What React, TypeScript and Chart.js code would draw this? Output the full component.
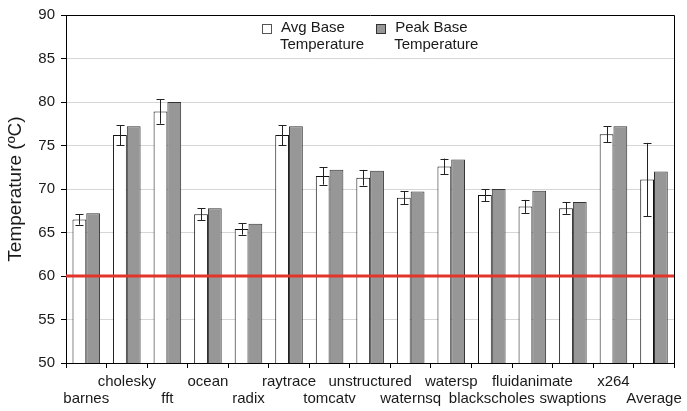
import React, { useEffect, useRef } from "react";
import { Chart, registerables } from "chart.js";

Chart.register(...registerables);

// Benchmarks on the x axis
const categories = [
  "barnes", "cholesky", "fft", "ocean", "radix", "raytrace", "tomcatv",
  "unstructured", "waternsq", "watersp", "blackscholes", "fluidanimate",
  "swaptions", "x264", "Average",
];

// Average base temperature (ºC) and its spread
const avgBase = [66.5, 76.2, 78.9, 67.1, 65.4, 76.2, 71.5, 71.3, 69.0, 72.6, 69.3, 68.0, 67.8, 76.3, 71.1];
const avgError = [0.6, 1.15, 1.4, 0.7, 0.65, 1.15, 1.0, 0.9, 0.75, 0.9, 0.7, 0.75, 0.65, 0.9, 4.2];

// Peak base temperature (ºC)
const peakBase = [67.2, 77.2, 80.0, 67.8, 66.0, 77.2, 72.2, 72.1, 69.7, 73.4, 70.0, 69.8, 68.5, 77.2, 72.0];

// Reference threshold line
const thresholdValue = 60;

// Y axis
const yMin = 50;
const yMax = 90;
const yStep = 5;

const legendLines = [
  ["Avg Base", "Temperature"],
  ["Peak Base", "Temperature"],
];

const FONT = "'Liberation Sans', Arial, sans-serif";
const TEXT = "#1a1a1a";
const GRAY = "#979797";

const overlayPlugin = {
  id: "overlay",
  afterDatasetsDraw(chart: any) {
    const { ctx, chartArea } = chart;
    const y = chart.scales.y;

    // threshold line
    ctx.save();
    const ty = y.getPixelForValue(thresholdValue);
    ctx.strokeStyle = "#e3342a";
    ctx.lineWidth = 3;
    ctx.beginPath();
    ctx.moveTo(chartArea.left, ty);
    ctx.lineTo(chartArea.right, ty);
    ctx.stroke();

    // error bars on the average series
    const meta = chart.getDatasetMeta(0);
    ctx.strokeStyle = "#222";
    ctx.lineWidth = 1;
    meta.data.forEach((el: any, i: number) => {
      const x = Math.round(el.x) + 0.5;
      const top = y.getPixelForValue(avgBase[i] + avgError[i]);
      const bot = y.getPixelForValue(avgBase[i] - avgError[i]);
      const hw = 4;
      ctx.beginPath();
      ctx.moveTo(x, top);
      ctx.lineTo(x, bot);
      ctx.moveTo(x - hw, Math.round(top) + 0.5);
      ctx.lineTo(x + hw, Math.round(top) + 0.5);
      ctx.moveTo(x - hw, Math.round(bot) + 0.5);
      ctx.lineTo(x + hw, Math.round(bot) + 0.5);
      ctx.stroke();
    });

    // frame
    ctx.strokeStyle = "#000";
    ctx.lineWidth = 1;
    ctx.beginPath();
    ctx.moveTo(Math.round(chartArea.left) + 0.5, Math.round(chartArea.top) + 0.5);
    ctx.lineTo(Math.round(chartArea.right) + 0.5, Math.round(chartArea.top) + 0.5);
    ctx.lineTo(Math.round(chartArea.right) + 0.5, Math.round(chartArea.bottom) + 0.5);
    ctx.stroke();

    // legend
    ctx.font = `15px ${FONT}`;
    ctx.textBaseline = "middle";
    ctx.textAlign = "left";
    const box = 9;
    const gap = 9;
    const itemGap = 12;
    const widths = legendLines.map((lines) =>
      box + gap + Math.max(...lines.map((l) => ctx.measureText(l).width))
    );
    const total = widths.reduce((a, b) => a + b, 0) + itemGap * (widths.length - 1);
    let x = (chartArea.left + chartArea.right) / 2 - total / 2;
    const ly = chartArea.top + 13;
    const fills = ["#ffffff", GRAY];
    const strokes = ["#555", "#333"];
    legendLines.forEach((lines, i) => {
      const bx = Math.round(x) + 0.5;
      const by = Math.round(ly - box / 2) + 0.5;
      ctx.fillStyle = fills[i];
      ctx.fillRect(bx, by, box, box);
      ctx.strokeStyle = strokes[i];
      ctx.strokeRect(bx, by, box, box);
      ctx.fillStyle = TEXT;
      lines.forEach((l, k) => {
        ctx.fillText(l, x + box + gap + (k === 0 ? 1 : 0), ly + k * 16.5);
      });
      x += widths[i] + itemGap;
    });
    ctx.restore();
  },
};

export default function App() {
  const ref = useRef<HTMLCanvasElement | null>(null);

  useEffect(() => {
    if (!ref.current) return;
    const chart = new Chart(ref.current, {
      type: "bar",
      data: {
        labels: categories.map((c, i) => (i % 2 === 0 ? ["", c] : [c])),
        datasets: [
          {
            label: "Avg Base Temperature",
            data: avgBase,
            backgroundColor: "#ffffff",
            borderColor: "#111",
            borderWidth: 1,
            categoryPercentage: 0.68,
            barPercentage: 1.0,
          },
          {
            label: "Peak Base Temperature",
            data: peakBase,
            backgroundColor: GRAY,
            borderColor: "#333",
            borderWidth: 1,
            categoryPercentage: 0.68,
            barPercentage: 1.0,
          },
        ],
      },
      options: {
        responsive: false,
        animation: false,
        layout: { padding: { top: 10, right: 6, left: 0, bottom: 0 } },
        plugins: {
          legend: { display: false },
          tooltip: { enabled: false },
        },
        scales: {
          x: {
            offset: true,
            border: { color: "#000", width: 1 },
            grid: {
              offset: true,
              drawOnChartArea: false,
              drawTicks: true,
              tickLength: 5,
              tickColor: "#000",
            },
            ticks: {
              autoSkip: false,
              maxRotation: 0,
              minRotation: 0,
              padding: 5,
              color: TEXT,
              font: { family: FONT, size: 15, lineHeight: 1.15 },
            },
            afterFit(scale: any) {
              scale.height = 48;
            },
          },
          y: {
            min: yMin,
            max: yMax,
            border: { color: "#000", width: 1 },
            grid: {
              color: "#d6d6d6",
              lineWidth: 1,
              tickLength: 5,
              tickColor: "#000",
            },
            ticks: {
              stepSize: yStep,
              padding: 6,
              color: TEXT,
              font: { family: FONT, size: 15 },
            },
            title: {
              display: true,
              text: "Temperature (ºC)",
              color: TEXT,
              font: { family: FONT, size: 19 },
              padding: { top: 4, bottom: 0 },
            },
            afterFit(scale: any) {
              scale.width = 66;
            },
          },
        },
      },
      plugins: [overlayPlugin],
    });
    return () => chart.destroy();
  }, []);

  return (
    <div style={{ position: "fixed", left: 0, top: 0, width: 687, height: 411, background: "#fff" }}>
      <canvas ref={ref} width={687} height={411} />
    </div>
  );
}
